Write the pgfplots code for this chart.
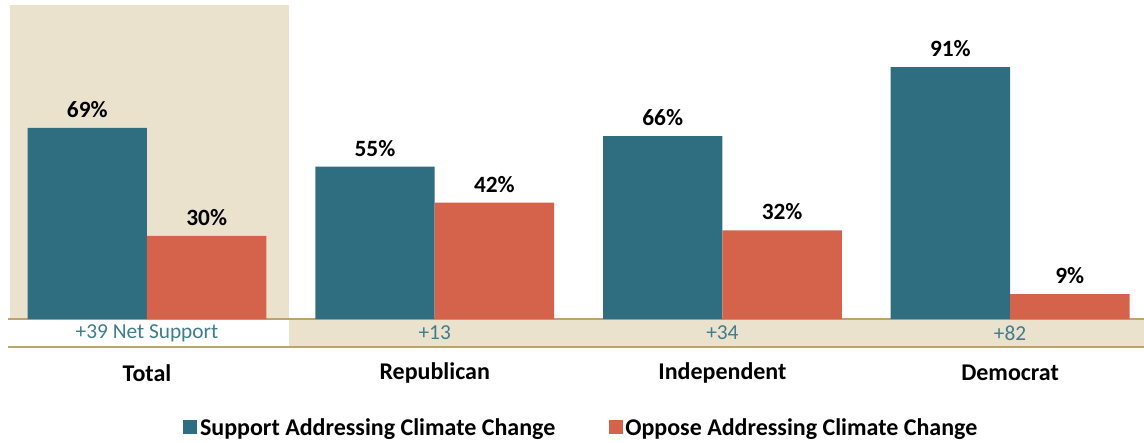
\documentclass[border=0pt]{standalone}
\usepackage{pgfplots}
\pgfplotsset{compat=1.18}
\usepackage{fontspec}
\setmainfont{Carlito}
\definecolor{suppcol}{HTML}{2F6E80}
\definecolor{oppcol}{HTML}{D5624A}
\definecolor{beige}{HTML}{EBE2CE}
\definecolor{goldline}{HTML}{BFA36C}
\definecolor{nettext}{HTML}{3F7C8C}

\begin{document}
\begin{tikzpicture}
	\begin{axis}[
			set layers,
			scale only axis,
			width=852pt,
			height=260.25pt,
			xmin=-0.4831, xmax=3.4654,
			ymin=-10.1, ymax=115.2,
			axis lines=none,
			ybar=0pt,
			bar width=0.415,
			clip=false,
			/pgf/number format/assume math mode=true,
			nodes near coords={\pgfmathprintnumber{\pgfplotspointmeta}\%},
			every node near coord/.append style={
					font=\fontsize{17.5}{20}\selectfont\bfseries,
					text=black, anchor=base, yshift=8pt, inner sep=0pt,
				},
			legend columns=2,
			legend style={
					at={(0.505,-0.2334)}, anchor=center,
					draw=none, fill=none,
					font=\fontsize{18}{21}\selectfont\bfseries,
					/tikz/every even column/.append style={column sep=38pt},
				},
			legend image code/.code={
					\fill[#1] (0pt,-4.5pt) rectangle (10.5pt,6pt);
				},
		]
		\begin{pgfonlayer}{axis background}
			\fill[beige] (axis cs:-0.476,0) rectangle (axis cs:0.4936,113.4);
			\fill[beige] (axis cs:0.4936,-10.1) rectangle (axis cs:3.4654,0);
			\draw[goldline, line width=1.6pt] (axis cs:-0.4831,0) -- (axis cs:3.4654,0);
			\draw[goldline, line width=1.6pt] (axis cs:-0.4831,-10.1) -- (axis cs:3.4654,-10.1);
		\end{pgfonlayer}

		\addplot[fill=suppcol, draw=none] coordinates {(0,69) (1,55) (2,66) (3,91)};
		\addplot[fill=oppcol, draw=none] coordinates {(0,30) (1,42) (2,32) (3,9)};
		\legend{Support Addressing Climate Change, Oppose Addressing Climate Change}

		\begin{scope}[font=\fontsize{16}{19}\selectfont, text=nettext]
			\node at (axis cs:0,-5.05) {+39 Net Support};
			\node at (axis cs:1,-5.05) {+13};
			\node at (axis cs:2,-5.05) {+34};
			\node at (axis cs:3,-5.05) {+82};
		\end{scope}
		\begin{scope}[font=\fontsize{18}{21}\selectfont\bfseries]
			\node at (axis cs:0,-19.5) {Total};
			\node at (axis cs:1,-19.5) {Republican};
			\node at (axis cs:2,-19.5) {Independent};
			\node at (axis cs:3,-19.5) {Democrat};
		\end{scope}
	\end{axis}
	\pgfresetboundingbox
	\path[use as bounding box] (-6pt,-71.25pt) rectangle (852pt,260.25pt);
\end{tikzpicture}
\end{document}
